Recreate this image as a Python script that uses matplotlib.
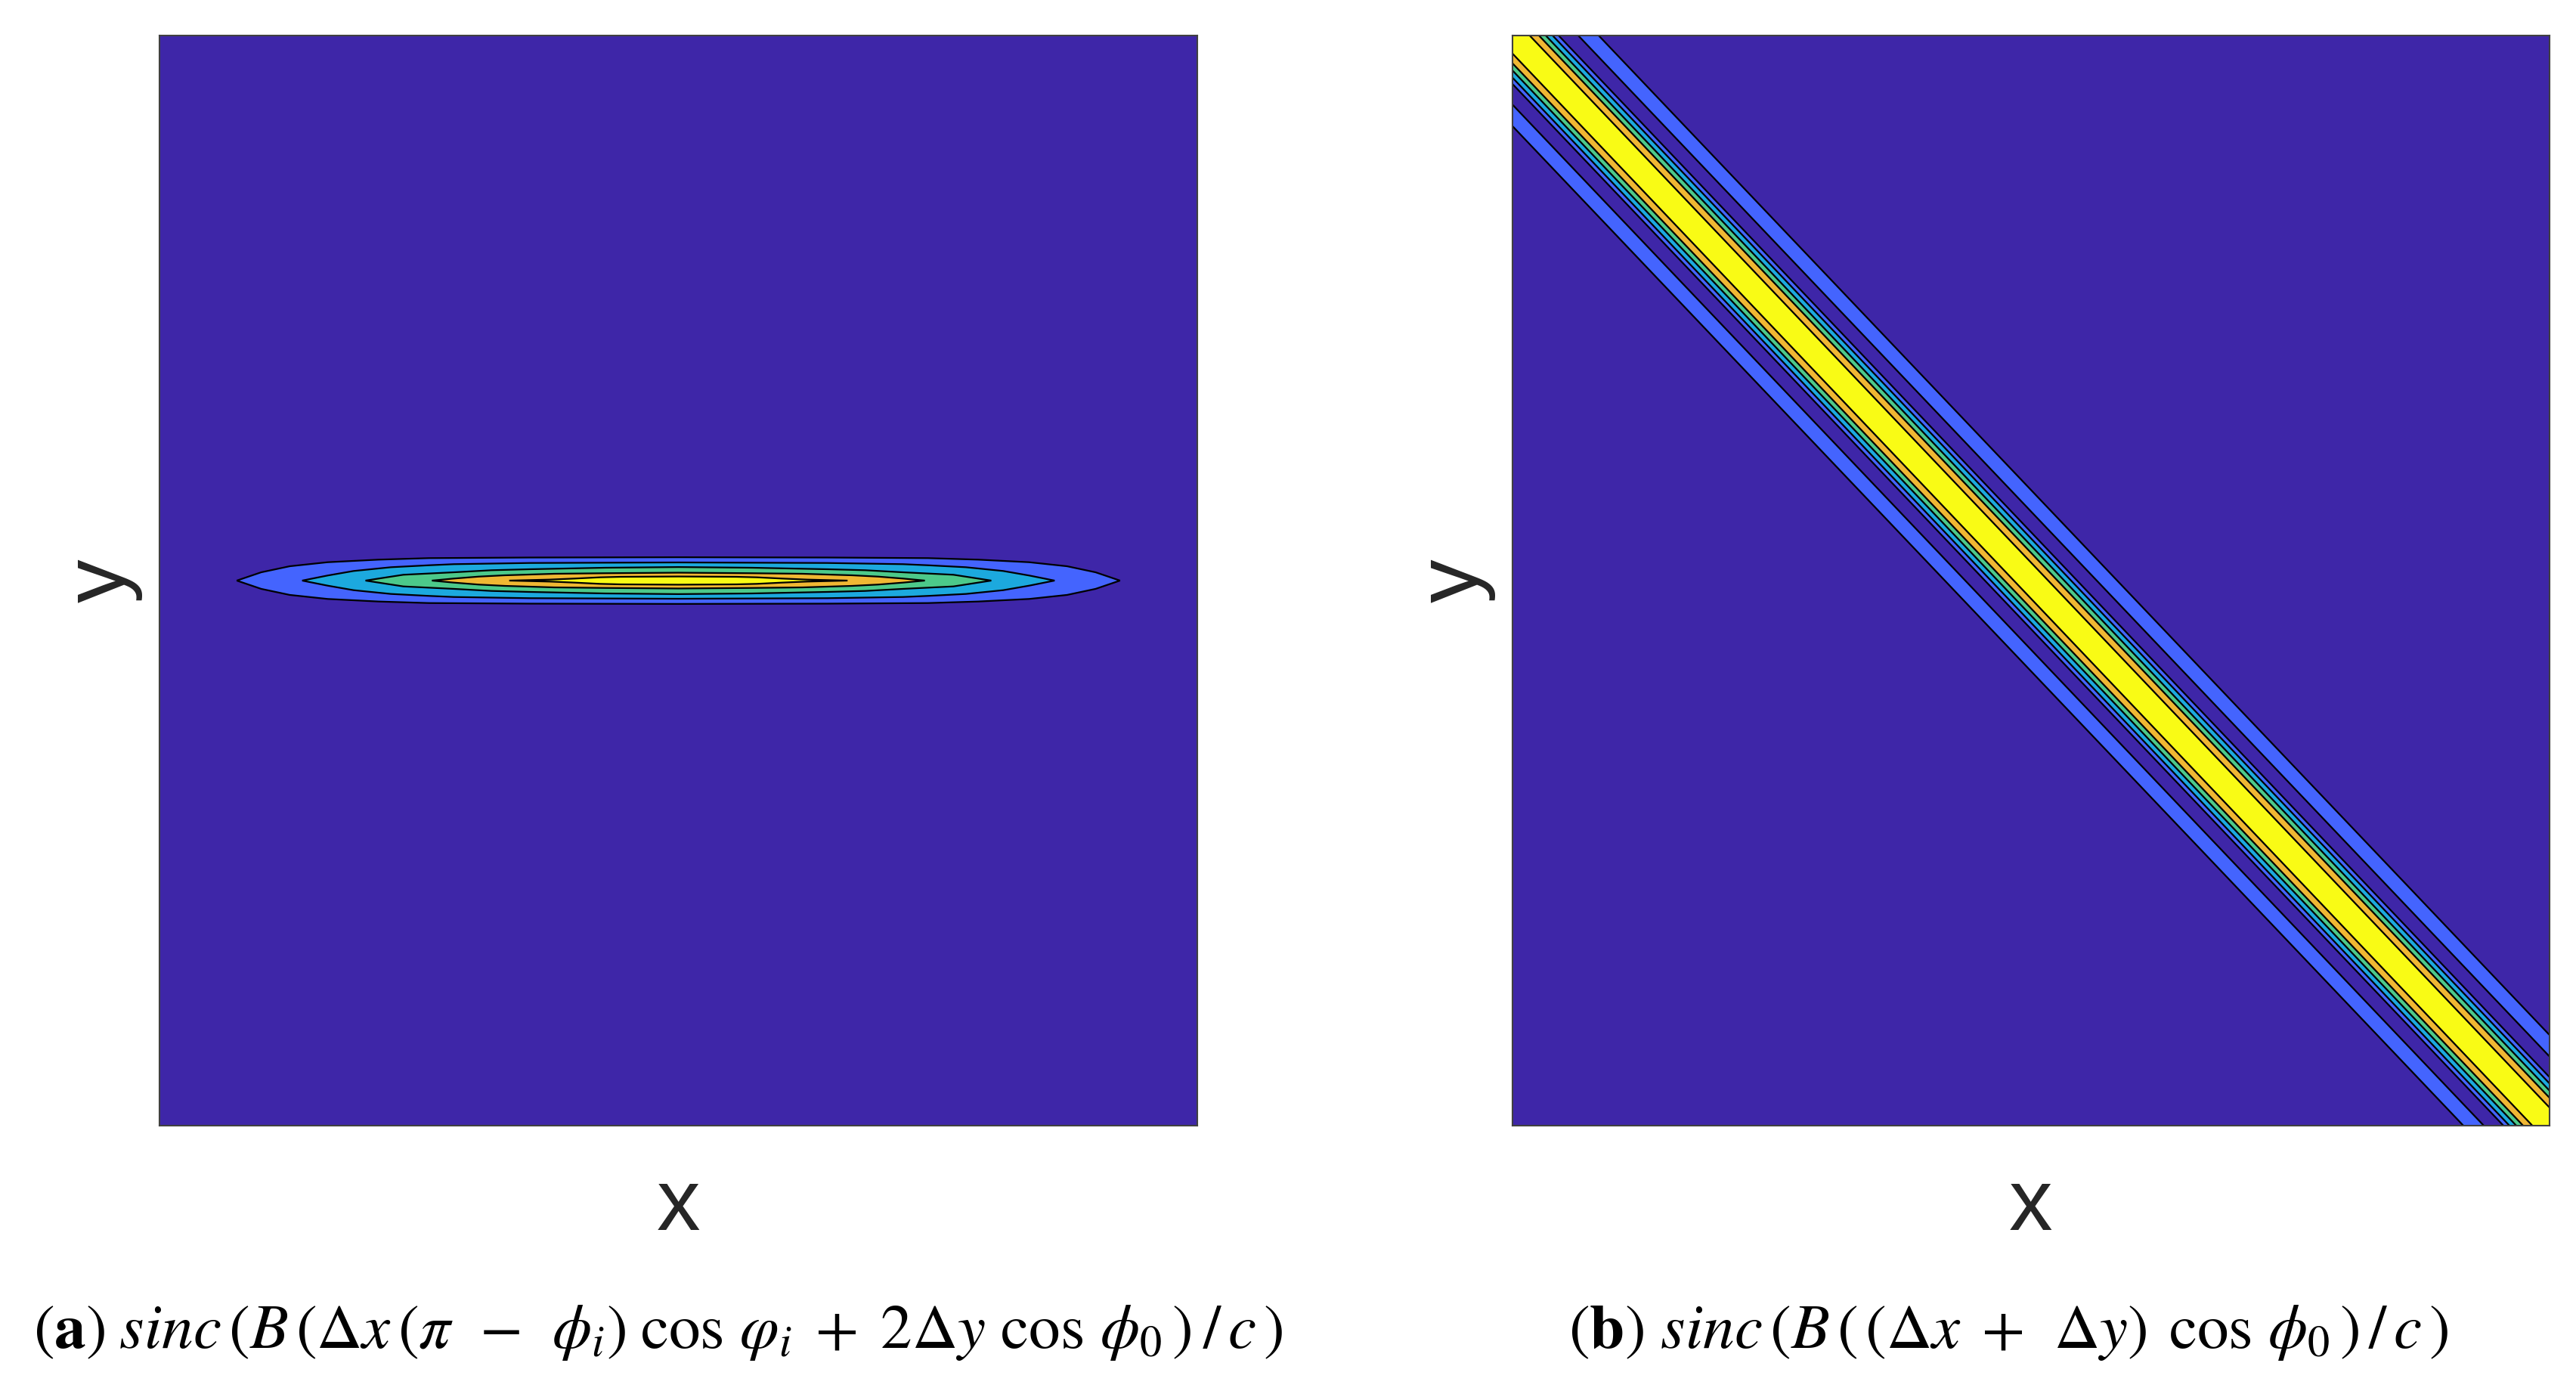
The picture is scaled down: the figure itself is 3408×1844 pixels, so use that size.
import numpy as np
import matplotlib
matplotlib.use("Agg")
import matplotlib.pyplot as plt

# ---- colours of the filled contour bands (low to high) ----
band_colors = ["#3E26A8", "#4464FE", "#1CA9DE", "#4CC98A", "#F0B733", "#F9FB15"]

# ---- panel (a): half-outline of each contour: x position and half height ----
a_x = [
    [-0.851, -0.804, -0.749, -0.676, -0.578, -0.481, -0.287, 0.0],
    [-0.725, -0.676, -0.626, -0.554, -0.481, -0.433, -0.287, 0.0],
    [-0.603, -0.530, -0.433, -0.360, -0.287, -0.141, 0.0],
    [-0.475, -0.433, -0.385, -0.335, -0.239, -0.141, 0.0],
    [-0.326, -0.248, -0.200, -0.151, -0.112, 0.0],
]
a_h = [
    [0.0, 0.0152, 0.0263, 0.0337, 0.0384, 0.0412, 0.0423, 0.0428],
    [0.0, 0.0093, 0.0176, 0.0245, 0.0281, 0.0301, 0.0323, 0.0333],
    [0.0, 0.0107, 0.0152, 0.0190, 0.0208, 0.0236, 0.0248],
    [0.0, 0.0037, 0.0073, 0.0097, 0.0125, 0.0135, 0.0145],
    [0.0, 0.0018, 0.0037, 0.0060, 0.0069, 0.0075],
]

# ---- panel (b): distance |x + y| of each contour line from the diagonal ----
b_offsets = [0.0331, 0.0510, 0.0641, 0.0773, 0.0889, 0.1268, 0.1662]
b_band_index = [5, 4, 3, 2, 1, 0, 1, 0]

x_label = "x"
y_label = "y"
caption_a = (r"$(\mathbf{a})\;sinc\,(B\,(\Delta x\,(\pi\;\,-\;\,\phi_i)\;\cos\,\varphi_i\;+\;"
             r"2\Delta y\,\,\cos\,\phi_0\,)\:/\,c\,)$")
caption_b = r"$(\mathbf{b})\ sinc\,(B\,(\,(\Delta x\;+\;\,\Delta y)\;\,\cos\,\phi_0\,)\,/\,c\,)$"

W, H = 3408, 1844
fig = plt.figure(figsize=(W / 100, H / 100), dpi=100, facecolor="white")
plt.rcParams["mathtext.fontset"] = "stix"


def make_axes(left, right, top, bottom):
    return fig.add_axes([left / W, 1 - bottom / H, (right - left) / W, (bottom - top) / H])


ax_a = make_axes(211, 1584, 47, 1489)
ax_b = make_axes(2001, 3373, 47, 1489)

EDGE = "#262626"
LW = 1.6

# panel (a)
ax_a.set_facecolor(band_colors[0])
for i, (xs, hs) in enumerate(zip(a_x, a_h)):
    xs = np.array(xs)
    hs = np.array(hs)
    px = np.concatenate([xs, -xs[-2::-1], -xs[1:], xs[-2::-1]])
    py = np.concatenate([hs, hs[-2::-1], -hs[1:], -hs[-2::-1]])
    ax_a.fill(px, py, facecolor=band_colors[i + 1], edgecolor="black", linewidth=LW, joinstyle="miter")

# panel (b)
gx, gy = np.meshgrid(np.linspace(-1, 1, 801), np.linspace(-1, 1, 801))
dist = np.abs(gx + gy)
levels = [0.0] + b_offsets + [2.0]
ax_b.contourf(gx, gy, dist, levels=levels, colors=[band_colors[k] for k in b_band_index])
ax_b.contour(gx, gy, dist, levels=b_offsets, colors="black", linewidths=LW)

for ax in (ax_a, ax_b):
    ax.set_xlim(-1, 1)
    ax.set_ylim(-1, 1)
    ax.set_xticks([])
    ax.set_yticks([])
    for s in ax.spines.values():
        s.set_color("#404040")
        s.set_linewidth(1.5)
    ax.set_xlabel(x_label, fontsize=83, family="Liberation Sans", color=EDGE, va="baseline")
    ax.set_ylabel(y_label, fontsize=83, family="Liberation Sans", color=EDGE, va="baseline")
    ax.xaxis.set_label_coords(0.5, -(1627 - 1489) / 1442)
    ax.yaxis.set_label_coords(-(211 - 165) / 1373, 0.5)

fig.text(44 / W, 1 - 1783 / H, caption_a, fontsize=60, ha="left", va="baseline", color="black")
fig.text(2075 / W, 1 - 1783 / H, caption_b, fontsize=60, ha="left", va="baseline", color="black")

fig.savefig("out.png", dpi=100, facecolor="white")
